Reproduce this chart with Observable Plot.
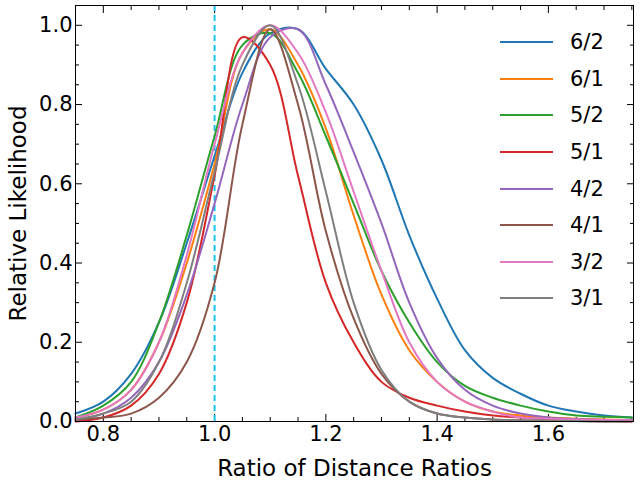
<!DOCTYPE html>
<html><head>
<script src="https://cdn.jsdelivr.net/npm/d3@7"></script>
<script src="https://cdn.jsdelivr.net/npm/@observablehq/plot@0.6"></script>
<style>
body{margin:0;font-family:"DejaVu Sans",sans-serif;background:#fff}
#wrap{position:relative;width:640px;height:480px}
#legend{position:absolute;left:500px;top:24px;font-size:21px}
#legend div{height:36.6px;display:flex;align-items:center}
#legend span.sw{display:inline-block;width:53px;height:2px;margin-right:17px}
</style>
</head><body>
<div id="wrap"><div id="myplot"></div><div id="legend"></div></div>
<script>
const xs = [0.75,0.80,0.85,0.90,0.95,1.00,1.05,1.10,1.15,1.20,1.25,1.30,1.35,1.40,1.45,1.50,1.55,1.60,1.65,1.70,1.75];
const names = ["6/2","6/1","5/2","5/1","4/2","4/1","3/2","3/1"];
const colors = ["#1f77b4","#ff7f0e","#2ca02c","#d62728","#9467bd","#8c564b","#e377c2","#7f7f7f"];
const s62 = [.02,.05,.12,.25,.45,.67,.88,.98,.99,.89,.80,.66,.47,.31,.18,.11,.07,.04,.025,.015,.01];
const s61 = [.01,.03,.08,.20,.40,.65,.93,.99,.90,.74,.52,.32,.18,.10,.05,.025,.015,.01,.007,.005,.003];
const s52 = [.01,.04,.10,.25,.47,.72,.95,.98,.88,.72,.55,.38,.25,.15,.09,.06,.04,.025,.015,.012,.01];
const s51 = [0,.01,.04,.12,.30,.62,.97,.90,.62,.35,.20,.10,.06,.04,.025,.015,.01,.005,.003,.002,0];
const s42 = [.005,.02,.06,.15,.32,.55,.80,.97,.99,.85,.68,.50,.30,.16,.08,.04,.02,.01,.006,.004,.003];
const s41 = [.005,.01,.02,.06,.15,.35,.75,.99,.80,.48,.26,.12,.05,.02,.01,.005,.003,.002,.001,0,0];
const s32 = [.01,.03,.08,.20,.42,.70,.93,1.0,.93,.78,.58,.38,.20,.10,.05,.025,.01,.007,.005,.004,.003];
const s31 = [.005,.02,.05,.15,.35,.63,.90,1.0,.85,.58,.30,.13,.05,.02,.01,.005,.003,.002,.001,0,0];
const series = [s62,s61,s52,s51,s42,s41,s32,s31];

const data = series.flatMap((s, i) => s.map((v, j) => ({x: xs[j], y: v, name: names[i]})));

const xMajor = [0.8,1.0,1.2,1.4,1.6];
const xMinor = d3.range(0.75, 1.76, 0.05).filter(v => !xMajor.some(m => Math.abs(m - v) < 1e-6));
const yMajor = [0,0.2,0.4,0.6,0.8,1.0];
const yMinor = d3.range(0.05, 1.05, 0.05).filter(v => !yMajor.some(m => Math.abs(m - v) < 1e-6));

const plot = Plot.plot({
  width: 640, height: 480,
  marginLeft: 75, marginRight: 7, marginTop: 5, marginBottom: 59,
  style: {fontFamily: "DejaVu Sans, sans-serif", fontSize: "21px", color: "#000"},
  x: {domain: [0.75, 1.753]},
  y: {domain: [0, 1.05]},
  color: {domain: names, range: colors},
  marks: [
    Plot.axisX(xMajor, {tickSize: -7, tickFormat: d => d.toFixed(1), tickPadding: 12, fontSize: 21,
      label: "Ratio of Distance Ratios", labelAnchor: "center", labelArrow: "none", labelOffset: 54}),
    Plot.axisX(xMinor, {tickSize: -4, tickFormat: () => "", label: null}),
    Plot.axisX(xMajor, {anchor: "top", tickSize: -7, tickFormat: () => "", label: null}),
    Plot.axisX(xMinor, {anchor: "top", tickSize: -4, tickFormat: () => "", label: null}),
    Plot.axisY(yMajor, {tickSize: -7, tickFormat: d => d.toFixed(1), tickPadding: 10, fontSize: 21,
      label: "Relative Likelihood", labelAnchor: "center", labelArrow: "none", labelOffset: 66}),
    Plot.axisY(yMinor, {tickSize: -4, tickFormat: () => "", label: null}),
    Plot.axisY(yMajor, {anchor: "right", tickSize: -7, tickFormat: () => "", label: null}),
    Plot.axisY(yMinor, {anchor: "right", tickSize: -4, tickFormat: () => "", label: null}),
    Plot.ruleX([1.0], {stroke: "#17c3f0", strokeWidth: 2, strokeDasharray: "6,4"}),
    Plot.line(data, {x: "x", y: "y", z: "name", stroke: "name", strokeWidth: 2, curve: "catmull-rom"}),
    Plot.frame({stroke: "#000"})
  ]
});
document.querySelector("#myplot").append(plot);
plot.querySelectorAll("[aria-label='x-axis label'], [aria-label='y-axis label']").forEach(g => g.setAttribute("font-size", "23"));

const legend = document.querySelector("#legend");
names.forEach((n, i) => {
  const row = document.createElement("div");
  row.innerHTML = `<span class="sw" style="background:${colors[i]}"></span>${n}`;
  legend.append(row);
});
</script>
</body></html>
